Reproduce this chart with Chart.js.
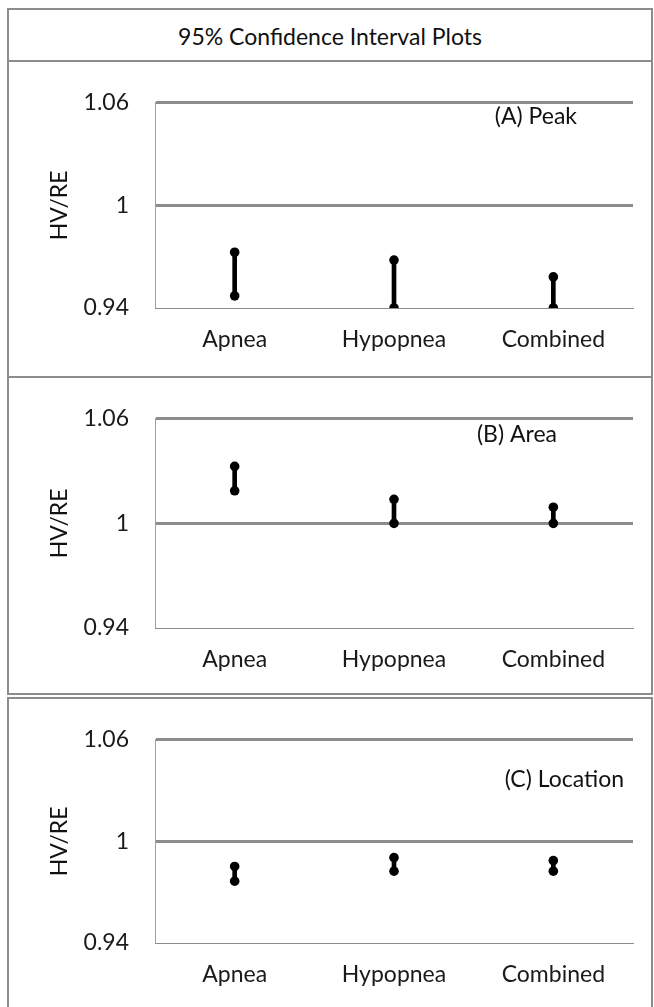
<!DOCTYPE html>
<html>
<head>
<meta charset="utf-8">
<script src="https://cdn.jsdelivr.net/npm/chart.js@4.4.0/dist/chart.umd.min.js"></script>
<style>
  body { margin: 0; background: #fff; width: 654px; height: 1007px; overflow: hidden; position: relative; font-family: Lato, sans-serif; }
  .box { position: absolute; left: 7px; width: 646px; box-sizing: border-box; border: 2px solid #8c8c8c; }
  #title { top: 8px; height: 54px; text-align: center; font-size: 23px; line-height: 52px; color: #111; }
  canvas { position: absolute; left: 9px; }
</style>
</head>
<body>
<div class="box" id="title">95% Confidence Interval Plots</div>
<div class="box" style="top:60px;height:318px"></div>
<div class="box" style="top:376px;height:319px"></div>
<div class="box" style="top:697px;height:320px"></div>
<canvas id="chartA" width="642" height="312" style="top:63px"></canvas>
<canvas id="chartB" width="642" height="315" style="top:379px"></canvas>
<canvas id="chartC" width="642" height="307" style="top:700px"></canvas>
<script>
const categories = ["Apnea", "Hypopnea", "Combined"];
const yTicks = [0.94, 1, 1.06];
const yTickLabels = ["0.94", "1", "1.06"];

// 95% CI lower / upper bounds per panel
const peakLow = [0.9471, 0.94, 0.94];
const peakHigh = [0.9726, 0.968, 0.9582];
const areaLow = [1.0187, 1.0, 1.0];
const areaHigh = [1.0327, 1.0138, 1.0093];
const locationLow = [0.9765, 0.9824, 0.9824];
const locationHigh = [0.9852, 0.9904, 0.9887];

const panels = [
    { id: "chartA", top: 63, height: 312, plotTop: 92, plotBottom: 308, low: peakLow, high: peakHigh, note: "(A) Peak", noteX: 568, noteY: 54 },
    { id: "chartB", top: 379, height: 315, plotTop: 408, plotBottom: 628, low: areaLow, high: areaHigh, note: "(B) Area", noteX: 548, noteY: 56 },
    { id: "chartC", top: 700, height: 307, plotTop: 727, plotBottom: 943, low: locationLow, high: locationHigh, note: "(C) Location", noteX: 615, noteY: 80 }
];

const FONT = "Lato, sans-serif";
const GRID = "#8c8c8c";

function makeChart(p) {
    const notePlugin = {
        id: "note",
        afterDraw(chart) {
            const ctx = chart.ctx;
            ctx.save();
            ctx.font = "23px " + FONT;
            ctx.fillStyle = "#111";
            ctx.textAlign = "right";
            ctx.textBaseline = "middle";
            ctx.fillText(p.note, p.noteX, p.noteY);
            ctx.restore();
        }
    };

    const pointSet = (values) => ({
        type: "line",
        data: values,
        showLine: false,
        pointRadius: 4.8,
        pointBorderWidth: 0,
        pointBackgroundColor: "#000",
        pointHoverRadius: 4.8
    });

    new Chart(document.getElementById(p.id), {
        type: "bar",
        data: {
            labels: categories,
            datasets: [
                {
                    data: p.low.map((lo, i) => [lo, p.high[i]]),
                    backgroundColor: "#000",
                    borderWidth: 0,
                    barThickness: 4
                },
                pointSet(p.high),
                pointSet(p.low)
            ]
        },
        options: {
            responsive: false,
            animation: false,
            events: [],
            layout: { padding: { top: p.plotTop - p.top, right: 18, left: 0, bottom: 0 } },
            plugins: { legend: { display: false }, tooltip: { enabled: false } },
            scales: {
                x: {
                    grid: { display: false, drawTicks: false },
                    border: { display: true, color: GRID, width: 1 },
                    ticks: { color: "#1a1a1a", font: { family: FONT, size: 23 }, padding: 18 },
                    afterFit: (scale) => { scale.height = p.height - (p.plotBottom - p.top); }
                },
                y: {
                    min: 0.94,
                    max: 1.06,
                    afterBuildTicks: (scale) => { scale.ticks = yTicks.map(v => ({ value: v })); },
                    afterFit: (scale) => { scale.width = 146; },
                    grid: {
                        drawTicks: false,
                        color: GRID,
                        lineWidth: (ctx) => (ctx.index === 0 ? 0 : 3)
                    },
                    border: { display: true, color: "#a0a0a0", width: 1 },
                    ticks: {
                        color: "#1a1a1a",
                        font: { family: FONT, size: 23 },
                        padding: 26,
                        callback: (v, i) => yTickLabels[i]
                    },
                    title: {
                        display: true,
                        text: "HV/RE",
                        color: "#111",
                        font: { family: FONT, size: 23 },
                        padding: { top: 37, bottom: 0 }
                    }
                }
            }
        },
        plugins: [notePlugin]
    });
}

panels.forEach(makeChart);
</script>
</body>
</html>
